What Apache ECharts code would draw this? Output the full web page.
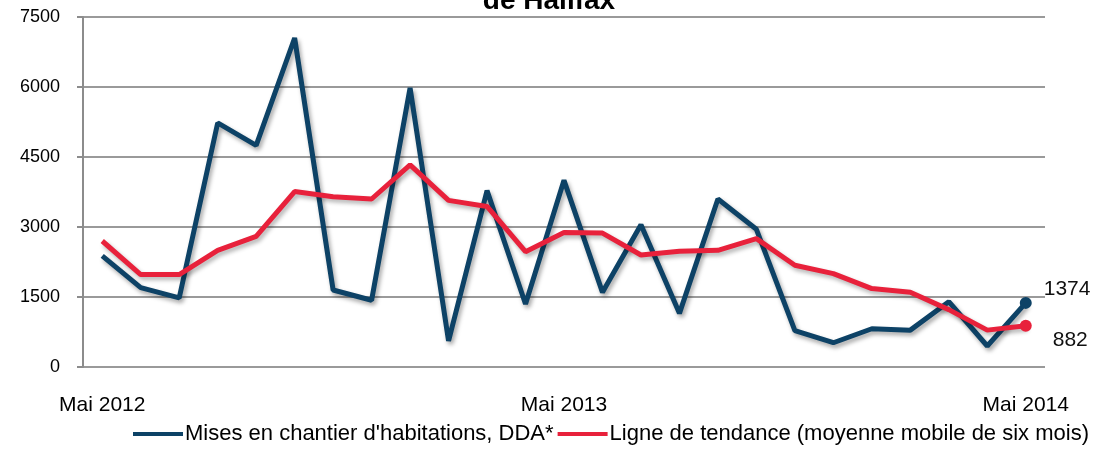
<!DOCTYPE html>
<html><head><meta charset="utf-8">
<script src="https://cdn.jsdelivr.net/npm/echarts@6/dist/echarts.min.js"></script>
<style>html,body{margin:0;padding:0;background:#fff}#c{width:1098px;height:450px}</style>
</head><body><div id="c"></div>
<script>
const months = ['Mai 2012','Juin 2012','Juil 2012','Août 2012','Sept 2012','Oct 2012','Nov 2012','Déc 2012','Janv 2013','Févr 2013','Mars 2013','Avr 2013','Mai 2013','Juin 2013','Juil 2013','Août 2013','Sept 2013','Oct 2013','Nov 2013','Déc 2013','Janv 2014','Févr 2014','Mars 2014','Avr 2014','Mai 2014'];
const shownLabels = ['Mai 2012','Mai 2013','Mai 2014'];
const starts = [2380,1700,1480,5230,4750,7050,1650,1430,5980,560,3780,1350,4000,1600,3050,1150,3600,2950,780,520,820,790,1400,450,1374];
const trend = [2700,1980,1980,2500,2800,3760,3650,3600,4330,3570,3440,2470,2880,2870,2400,2480,2500,2750,2180,2000,1680,1600,1230,790,882];
const yTicks = [0,1500,3000,4500,6000,7500];
const seriesNames = ["Mises en chantier d'habitations, DDA*", "Ligne de tendance (moyenne mobile de six mois)"];
const blue = '#0d4266', red = '#e8213b';
const font = 'Liberation Sans, Arial, sans-serif';
const chart = echarts.init(document.getElementById('c'));
function lastOnly(arr, color, offset){
  return arr.map((v,i)=> i===arr.length-1 ? {value:v, symbol:'circle', symbolSize:12,
    itemStyle:{color:color},
    label:{show:true, position:'right', offset:offset, formatter: String(v), color:'#111', fontSize:21, fontFamily:font, distance:12}} : v);
}
chart.setOption({
  animation:false,
  title:{text:'de Halifax', left:'center', top:-18, textStyle:{fontSize:28, fontWeight:'bold', fontFamily:font, color:'#000'}},
  grid:{left:83, right:53, top:17, bottom:83},
  legend:{bottom:0, left:128, itemWidth:50, itemHeight:4, itemGap:4, icon:'rect',
    textStyle:{fontSize:22, fontFamily:font, color:'#000', padding:[0,0,0,-3]},
    data:seriesNames},
  xAxis:{type:'category', data:months, boundaryGap:true,
    axisLine:{show:false}, axisTick:{show:false},
    axisLabel:{interval:0, margin:28, fontSize:21, fontFamily:font, color:'#000',
      formatter:(v)=> shownLabels.includes(v) ? v : ''}},
  yAxis:{type:'value', min:yTicks[0], max:yTicks[yTicks.length-1], interval:1500,
    axisLine:{show:true, lineStyle:{color:'#8c8c8c', width:2}},
    axisTick:{show:true, length:6, lineStyle:{color:'#8c8c8c', width:2}},
    splitLine:{lineStyle:{color:'#9a9a9a', width:2}},
    axisLabel:{margin:23, fontSize:18, fontFamily:font, color:'#000', formatter:(v)=>String(v)}},
  series:[
    {name:seriesNames[0], type:'line', data:lastOnly(starts, blue, [0,-14]), symbol:'none',
      lineStyle:{color:blue, width:5, shadowColor:'rgba(0,0,0,0.35)', shadowBlur:4, shadowOffsetX:2, shadowOffsetY:3},
      itemStyle:{color:blue}, z:2},
    {name:seriesNames[1], type:'line', data:lastOnly(trend, red, [9,14]), symbol:'none',
      lineStyle:{color:red, width:5, shadowColor:'rgba(0,0,0,0.3)', shadowBlur:4, shadowOffsetX:2, shadowOffsetY:3},
      itemStyle:{color:red}, z:3}
  ]
});
</script></body></html>
